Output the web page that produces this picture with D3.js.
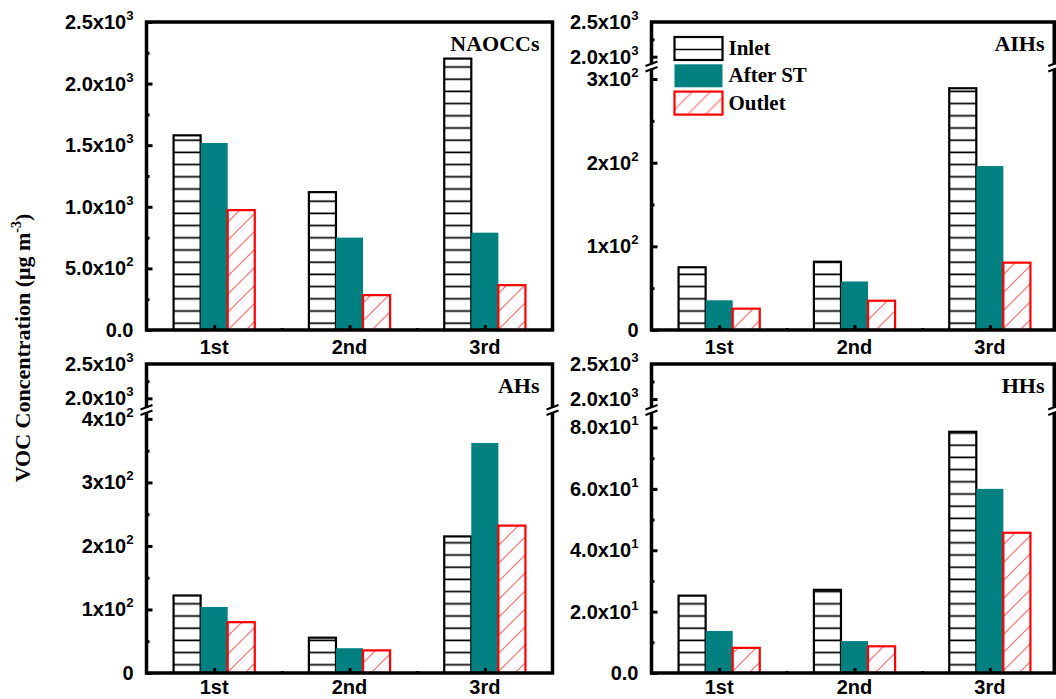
<!DOCTYPE html>
<html>
<head>
<meta charset="utf-8">
<script src="https://cdn.jsdelivr.net/npm/d3@7"></script>
<style>
  body { margin: 0; background: #fff; }
  svg { display: block; }
</style>
</head>
<body>
<svg id="chart" width="1056" height="699"></svg>
<script>
// Sampling rounds and treatment stages
const categories = ["1st", "2nd", "3rd"];
const seriesNames = ["Inlet", "After ST", "Outlet"];

// NAOCCs (µg m-3)
const naoccsInlet = [1580, 1119, 2203];
const naoccsAfterST = [1518, 750, 790];
const naoccsOutlet = [973, 283, 364];

// AIHs
const aihsInlet = [75, 81.6, 289];
const aihsAfterST = [35.5, 58, 196];
const aihsOutlet = [25.5, 35, 80.5];

// AHs
const ahsInlet = [122, 55.6, 215];
const ahsAfterST = [104, 39, 362];
const ahsOutlet = [80, 35.6, 232];

// HHs
const hhsInlet = [25.2, 27.1, 78.6];
const hhsAfterST = [13.7, 10.4, 60.0];
const hhsOutlet = [8.2, 8.7, 45.7];

// Y tick values and labels ("^" marks the exponent)
const naoccsTicks = [0, 500, 1000, 1500, 2000, 2500];
const naoccsTickLabels = ["0.0", "5.0x10^2", "1.0x10^3", "1.5x10^3", "2.0x10^3", "2.5x10^3"];
const aihsTicks = [0, 100, 200, 300];
const aihsTickLabels = ["0", "1x10^2", "2x10^2", "3x10^2"];
const ahsTicks = [0, 100, 200, 300, 400];
const ahsTickLabels = ["0", "1x10^2", "2x10^2", "3x10^2", "4x10^2"];
const hhsTicks = [0, 20, 40, 60, 80];
const hhsTickLabels = ["0.0", "2.0x10^1", "4.0x10^1", "6.0x10^1", "8.0x10^1"];
const upperTicks = [2000, 2500];
const upperTickLabels = ["2.0x10^3", "2.5x10^3"];

const W = 1056, H = 699;
const SANS = "'Liberation Sans', Arial, sans-serif";
const SERIF = "'Liberation Serif', 'Times New Roman', serif";
const TEAL = "#008080";
const HATCH_RED = "#ff6666";

const panels = [
  { title: "NAOCCs", inlet: naoccsInlet, afterST: naoccsAfterST, outlet: naoccsOutlet,
    ticks: naoccsTicks, labels: naoccsTickLabels, minor: 250, lowerMax: 2500,
    x0: 146.5, x1: 552.5, top: 22, bottom: 330, breakY: null },
  { title: "AIHs", inlet: aihsInlet, afterST: aihsAfterST, outlet: aihsOutlet,
    ticks: aihsTicks, labels: aihsTickLabels, minor: 50, lowerMax: 315, upperMin: 1859,
    x0: 651.5, x1: 1057.5, top: 22, bottom: 330, breakY: 66.5, legend: true },
  { title: "AHs", inlet: ahsInlet, afterST: ahsAfterST, outlet: ahsOutlet,
    ticks: ahsTicks, labels: ahsTickLabels, minor: 50, lowerMax: 414, upperMin: 1830,
    x0: 146.5, x1: 552.5, top: 364, bottom: 673, breakY: 410 },
  { title: "HHs", inlet: hhsInlet, afterST: hhsAfterST, outlet: hhsOutlet,
    ticks: hhsTicks, labels: hhsTickLabels, minor: 10, lowerMax: 85.7, upperMin: 1844,
    x0: 651.5, x1: 1057.5, top: 364, bottom: 673, breakY: 410 }
];

const svg = d3.select("#chart");

// Fill patterns: horizontal lines for Inlet, red diagonal hatch for Outlet
const defs = svg.append("defs");
const hp = defs.append("pattern").attr("id", "hlines")
  .attr("patternUnits", "userSpaceOnUse").attr("width", 12).attr("height", 12.2);
hp.append("rect").attr("width", 12).attr("height", 12.2).attr("fill", "#fff");
hp.append("line").attr("x1", 0).attr("x2", 12).attr("y1", 6).attr("y2", 6)
  .style("stroke", "#000").style("stroke-width", 1.7);
const dp = defs.append("pattern").attr("id", "redhatch")
  .attr("patternUnits", "userSpaceOnUse").attr("width", 18).attr("height", 18);
dp.append("rect").attr("width", 18).attr("height", 18).style("fill", "#ffffff");
[[0, 18, 18, 0], [-9, 9, 9, -9], [9, 27, 27, 9]].forEach(c => {
  dp.append("line").attr("x1", c[0]).attr("y1", c[1]).attr("x2", c[2]).attr("y2", c[3])
    .style("stroke", HATCH_RED).style("stroke-width", 1.1);
});

function tickLabel(sel, str, fs) {
  const parts = str.split("^");
  sel.append("tspan").text(parts[0]);
  if (parts.length > 1) {
    sel.append("tspan").attr("dy", -fs * 0.45).attr("font-size", fs * 0.66).text(parts[1]);
  }
}

function styleTicks(a) {
  a.select(".domain").remove();
  a.selectAll("line").attr("stroke", "#000").attr("stroke-width", 3);
}

panels.forEach(p => {
  const g = svg.append("g");
  const frameRight = Math.min(p.x1, W - 1.75);

  const x = d3.scaleLinear().domain([0.5, 3.5]).range([p.x0, p.x1]);
  const lower = d3.scaleLinear().domain([0, p.lowerMax]).range([p.bottom, p.breakY || p.top]);
  const upper = p.breakY ? d3.scaleLinear().domain([p.upperMin, 2500]).range([p.breakY, p.top]) : null;
  const y = v => (upper && v > p.lowerMax) ? upper(v) : lower(v);

  // Bars
  const rows = [
    { vals: p.inlet, off: -0.3, fill: "url(#hlines)", stroke: "#000" },
    { vals: p.afterST, off: -0.1, fill: TEAL, stroke: "none" },
    { vals: p.outlet, off: 0.1, fill: "url(#redhatch)", stroke: "#ff0000" }
  ];
  rows.forEach(r => {
    g.selectAll(null).data(r.vals).join("rect")
      .attr("x", (d, i) => x(i + 1 + r.off))
      .attr("width", (d, i) => x(i + 1 + r.off + 0.2) - x(i + 1 + r.off))
      .attr("y", d => y(d))
      .attr("height", d => p.bottom - y(d))
      .attr("fill", r.fill)
      .attr("stroke", r.stroke)
      .attr("stroke-width", 2.2);
  });

  // Y axis ticks (pointing inward)
  const minorVals = d3.range(p.minor, p.lowerMax, p.minor).filter(v => !p.ticks.includes(v));
  styleTicks(g.append("g").attr("transform", `translate(${p.x0},0)`)
    .call(d3.axisRight(lower).tickValues(p.ticks).tickSize(6).tickFormat("")));
  styleTicks(g.append("g").attr("transform", `translate(${p.x0},0)`)
    .call(d3.axisRight(lower).tickValues(minorVals).tickSize(3).tickFormat("")));
  if (upper) {
    styleTicks(g.append("g").attr("transform", `translate(${p.x0},0)`)
      .call(d3.axisRight(upper).tickValues([2000]).tickSize(6).tickFormat("")));
    styleTicks(g.append("g").attr("transform", `translate(${p.x0},0)`)
      .call(d3.axisRight(upper).tickValues([2250]).tickSize(3).tickFormat("")));
  }

  // Y tick labels
  const labelX = p.x0 - 13;
  const fs = 20;
  p.ticks.forEach((v, i) => {
    const t = g.append("text").attr("x", labelX).attr("y", lower(v) + 7)
      .attr("text-anchor", "end").attr("font-family", SANS).attr("font-weight", "bold")
      .attr("font-size", fs);
    tickLabel(t, p.labels[i], fs);
  });
  if (upper) {
    upperTicks.forEach((v, i) => {
      const t = g.append("text").attr("x", labelX).attr("y", upper(v) + 7)
        .attr("text-anchor", "end").attr("font-family", SANS).attr("font-weight", "bold")
        .attr("font-size", fs);
      tickLabel(t, upperTickLabels[i], fs);
    });
  }

  // X axis ticks (major at categories, minor between)
  styleTicks(g.append("g").attr("transform", `translate(0,${p.bottom})`)
    .call(d3.axisTop(x).tickValues([1, 2, 3]).tickSize(5).tickFormat("")));
  styleTicks(g.append("g").attr("transform", `translate(0,${p.bottom})`)
    .call(d3.axisTop(x).tickValues([1.5, 2.5]).tickSize(2).tickFormat("")));

  // Category labels
  g.selectAll(null).data(categories).join("text")
    .attr("x", (d, i) => x(i + 1)).attr("y", Math.min(p.bottom + 24, H - 5))
    .attr("text-anchor", "middle").attr("font-family", SANS).attr("font-weight", "bold")
    .attr("font-size", 20).text(d => d);

  // Frame
  g.append("path")
    .attr("d", `M${p.x0},${p.top} H${frameRight} V${p.bottom} H${p.x0} Z`)
    .attr("fill", "none").attr("stroke", "#000").attr("stroke-width", 3.5);

  // Axis break marks on both vertical axes
  if (p.breakY) {
    [p.x0, frameRight].forEach(ax => {
      g.append("rect").attr("x", ax - 3).attr("y", p.breakY - 2.2).attr("width", 6).attr("height", 4.4)
        .attr("fill", "#fff");
      g.append("line").attr("x1", ax - 6).attr("y1", p.breakY - 0.5).attr("x2", ax + 6).attr("y2", p.breakY - 5)
        .attr("stroke", "#000").attr("stroke-width", 2);
      g.append("line").attr("x1", ax - 6).attr("y1", p.breakY + 5).attr("x2", ax + 6).attr("y2", p.breakY + 0.5)
        .attr("stroke", "#000").attr("stroke-width", 2);
    });
  }

  // Panel title
  g.append("text").attr("x", Math.min(p.x1 - 13, W - 4)).attr("y", p.top + 29)
    .attr("text-anchor", "end").attr("font-family", SERIF).attr("font-weight", "bold")
    .attr("font-size", 22).text(p.title);

  // Legend
  if (p.legend) {
    const lg = g.append("g").attr("transform", `translate(${p.x0 + 23},${p.top + 15})`);
    const fills = ["#fff", TEAL, "url(#redhatch)"];
    const strokes = ["#000", "none", "#ff0000"];
    seriesNames.forEach((s, i) => {
      const row = lg.append("g").attr("transform", `translate(0,${i * 27.3})`);
      row.append("rect").attr("width", 48).attr("height", 23).attr("fill", fills[i])
        .attr("stroke", strokes[i]).attr("stroke-width", 2.2);
      if (i === 0) {
        row.append("line").attr("x1", 0).attr("x2", 48).attr("y1", 12.5).attr("y2", 12.5)
          .attr("stroke", "#000").attr("stroke-width", 1.6);
      }
      row.append("text").attr("x", 54).attr("y", 18).attr("font-family", SERIF)
        .attr("font-weight", "bold").attr("font-size", 21).text(s);
    });
  }
});

// Shared Y axis title
const yt = svg.append("text")
  .attr("transform", "translate(30,348) rotate(-90)")
  .attr("text-anchor", "middle").attr("font-family", SERIF).attr("font-weight", "bold")
  .attr("font-size", 22);
yt.append("tspan").text("VOC Concentration (μg m");
yt.append("tspan").attr("dy", -9).attr("font-size", 14).text("-3");
yt.append("tspan").attr("dy", 9).text(")");
</script>
</body>
</html>
